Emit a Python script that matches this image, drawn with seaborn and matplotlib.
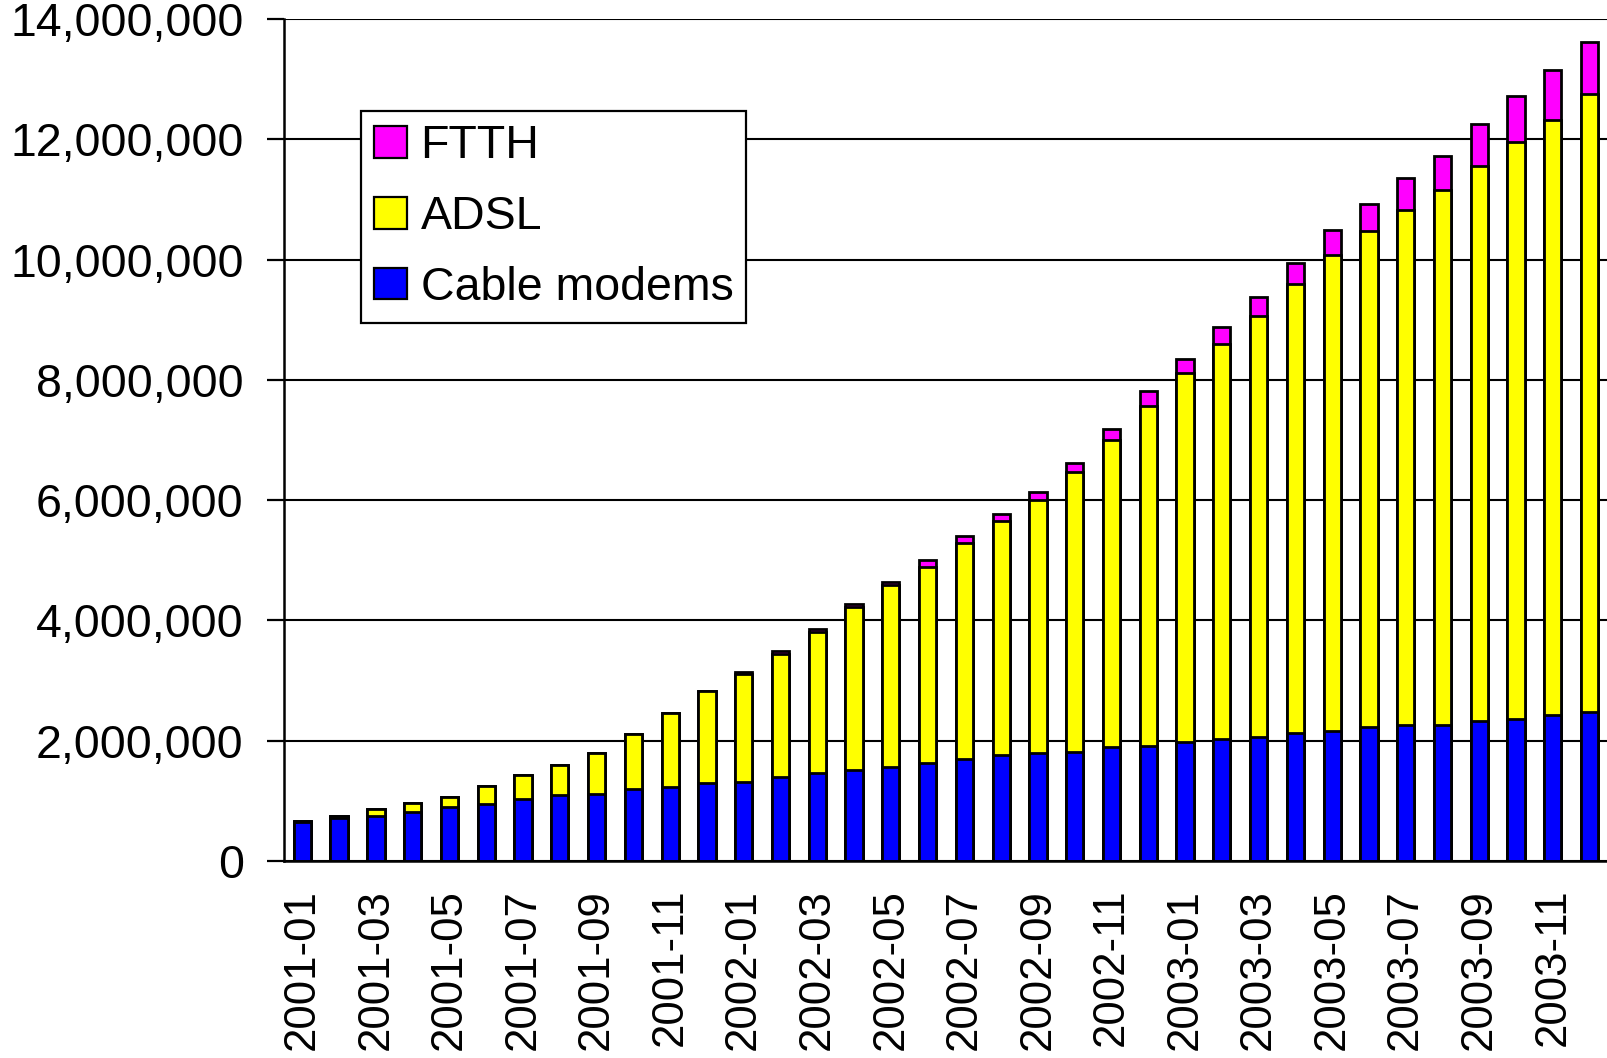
import matplotlib
matplotlib.use("Agg")
import matplotlib.pyplot as plt
import matplotlib.ticker as mticker
from matplotlib.patches import Patch
import numpy as np
import pandas as pd
import seaborn as sns

months = [
    "2001-01", "2001-02", "2001-03", "2001-04", "2001-05", "2001-06",
    "2001-07", "2001-08", "2001-09", "2001-10", "2001-11", "2001-12",
    "2002-01", "2002-02", "2002-03", "2002-04", "2002-05", "2002-06",
    "2002-07", "2002-08", "2002-09", "2002-10", "2002-11", "2002-12",
    "2003-01", "2003-02", "2003-03", "2003-04", "2003-05", "2003-06",
    "2003-07", "2003-08", "2003-09", "2003-10", "2003-11", "2003-12",
]

cable = [
    650_000, 710_000, 750_000, 820_000, 890_000, 950_000,
    1_030_000, 1_090_000, 1_120_000, 1_190_000, 1_230_000, 1_300_000,
    1_320_000, 1_390_000, 1_460_000, 1_520_000, 1_560_000, 1_630_000,
    1_690_000, 1_760_000, 1_790_000, 1_820_000, 1_890_000, 1_920_000,
    1_980_000, 2_030_000, 2_060_000, 2_130_000, 2_160_000, 2_230_000,
    2_260_000, 2_260_000, 2_330_000, 2_360_000, 2_430_000, 2_470_000,
]

adsl = [
    10_000, 40_000, 110_000, 140_000, 170_000, 300_000,
    400_000, 500_000, 670_000, 930_000, 1_230_000, 1_530_000,
    1_790_000, 2_060_000, 2_350_000, 2_700_000, 3_030_000, 3_260_000,
    3_600_000, 3_900_000, 4_210_000, 4_640_000, 5_110_000, 5_650_000,
    6_130_000, 6_570_000, 7_010_000, 7_470_000, 7_920_000, 8_250_000,
    8_560_000, 8_890_000, 9_230_000, 9_590_000, 9_890_000, 10_290_000,
]

ftth = [
    0, 0, 0, 0, 0, 0,
    0, 0, 0, 0, 0, 0,
    30_000, 40_000, 50_000, 50_000, 50_000, 110_000,
    110_000, 110_000, 140_000, 150_000, 180_000, 240_000,
    240_000, 280_000, 310_000, 350_000, 410_000, 440_000,
    530_000, 570_000, 700_000, 770_000, 840_000, 860_000,
]

series_names = ["FTTH", "ADSL", "Cable modems"]
series_colors = ["#FF00FF", "#FFFF00", "#0000FF"]

df = pd.DataFrame({"month": months, "Cable modems": cable, "ADSL": adsl, "FTTH": ftth})
df["top_adsl"] = df["Cable modems"] + df["ADSL"]
df["top_ftth"] = df["top_adsl"] + df["FTTH"]

sns.set_style("white")
plt.rcParams["font.family"] = ["Liberation Sans", "DejaVu Sans"]
plt.rcParams["text.color"] = "black"
plt.rcParams["xtick.labelcolor"] = "black"
plt.rcParams["ytick.labelcolor"] = "black"

fig = plt.figure(figsize=(16.08, 10.58), dpi=100)
ax = fig.add_axes([0.1766, 0.1862, 0.8234, 0.7958])

bar_kw = dict(width=0.47, edgecolor="black", linewidth=2.0, saturation=1, ax=ax, order=months)
sns.barplot(data=df, x="month", y="top_ftth", color=series_colors[0], **bar_kw)
sns.barplot(data=df, x="month", y="top_adsl", color=series_colors[1], **bar_kw)
sns.barplot(data=df, x="month", y="Cable modems", color=series_colors[2], **bar_kw)

ax.set_xlim(-0.5, len(months) - 0.5)
ax.set_ylim(0, 14_000_000)
ax.set_yticks(np.arange(0, 14_000_001, 2_000_000))
ax.yaxis.set_major_formatter(mticker.StrMethodFormatter("{x:,.0f}"))
ax.set_xlabel("")
ax.set_ylabel("")

ax.set_xticks(range(len(months)))
ax.set_xticklabels([m if i % 2 == 0 else "" for i, m in enumerate(months)],
                   rotation=90, fontsize=31.5, color="black")
ax.set_xticks(np.arange(-0.5, len(months), 1.0), minor=True)
ax.tick_params(axis="x", which="major", length=0, pad=20)
ax.tick_params(axis="x", which="minor", length=9, width=1.6, color="black", direction="out")
ax.tick_params(axis="y", which="major", length=12, width=1.6, color="black",
               direction="out", labelsize=33.5, pad=17, left=True, labelcolor="black")
for lab in ax.get_xticklabels():
    lab.set_verticalalignment("top")

ax.yaxis.grid(True, color="black", linewidth=1.5)
ax.xaxis.grid(False)
ax.set_axisbelow(True)
for side in ["top", "right"]:
    ax.spines[side].set_visible(False)
for side in ["left", "bottom"]:
    ax.spines[side].set_color("black")
    ax.spines[side].set_linewidth(1.8)

handles = [Patch(facecolor=c, edgecolor="black", linewidth=1.6) for c in series_colors]
leg = ax.legend(handles, series_names, loc="upper left",
                bbox_to_anchor=(0.0582, 0.891), borderaxespad=0,
                fontsize=33.5, frameon=True, fancybox=False, shadow=False,
                handlelength=0.7, handleheight=0.68, handletextpad=0.3,
                labelspacing=0.58, borderpad=0.28)
leg.get_frame().set_edgecolor("black")
leg.get_frame().set_linewidth(1.6)
leg.get_frame().set_alpha(1)
for t in leg.get_texts():
    t.set_color("black")

fig.savefig("out.png", dpi=100)
